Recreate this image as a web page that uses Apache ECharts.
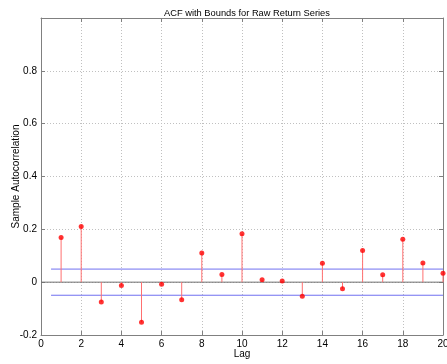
<!DOCTYPE html>
<html>
<head>
<meta charset="utf-8">
<script src="https://cdn.jsdelivr.net/npm/echarts@6/dist/echarts.min.js"></script>
<style>html,body{margin:0;padding:0;background:#fff}#c{width:447px;height:364px}</style>
</head>
<body>
<div id="c"></div>
<script>
var lags = [1,2,3,4,5,6,7,8,9,10,11,12,13,14,15,16,17,18,19,20];
var acf = [0.169,0.211,-0.075,-0.013,-0.152,-0.008,-0.067,0.110,0.029,0.183,0.009,0.004,-0.053,0.072,-0.025,0.120,0.028,0.162,0.073,0.034];
var bound = 0.0495;
var boundStart = 0.5, boundEnd = 20;
var xTicks = [0,2,4,6,8,10,12,14,16,18,20];
var yTicks = [-0.2,0,0.2,0.4,0.6,0.8];

var chart = echarts.init(document.getElementById('c'), null, {renderer:'canvas'});
var font = 'Liberation Sans, Arial, Helvetica, sans-serif';
var axisCol = '#808080';
var stemData = lags.map(function(l,i){return [l, acf[i]];});
function fmtY(v){
  var r = Math.round(v*10)/10;
  if (Math.abs(r-1) < 1e-9) return '';
  if (Math.abs(r) < 1e-9) return '0';
  return String(r);
}
var option = {
  animation:false,
  title:{text:'ACF with Bounds for Raw Return Series', left:242, textAlign:'center', top:4,
    textStyle:{fontFamily:font, fontSize:9.3, fontWeight:'normal', color:'#000'}},
  grid:{left:41, right:4, top:18, bottom:29, containLabel:false, outerBoundsMode:'none'},
  xAxis:[{
    type:'value', min:0, max:20, interval:2, name:'Lag', nameLocation:'middle', nameGap:14, nameMoveOverlap:false,
    nameTextStyle:{fontFamily:font, fontSize:10, color:'#000'},
    axisLine:{onZero:false, lineStyle:{color:axisCol, width:1}},
    axisTick:{inside:true, length:4, lineStyle:{color:axisCol}},
    axisLabel:{fontFamily:font, fontSize:10, color:'#000', margin:4},
    splitLine:{show:true, lineStyle:{color:'#c0c0c0', type:[1,2], width:1}}
  },{
    type:'value', min:0, max:20, interval:2, position:'top',
    axisLine:{onZero:false, lineStyle:{color:axisCol}}, axisTick:{inside:true, length:4, lineStyle:{color:axisCol}},
    axisLabel:{show:false}, splitLine:{show:false}
  }],
  yAxis:[{
    type:'value', min:-0.2, max:1, interval:0.2, name:'Sample Autocorrelation', nameLocation:'middle', nameGap:20, nameMoveOverlap:false,
    nameTextStyle:{fontFamily:font, fontSize:10, color:'#000'},
    axisLine:{onZero:false, lineStyle:{color:axisCol, width:1}},
    axisTick:{inside:true, length:4, lineStyle:{color:axisCol}},
    axisLabel:{fontFamily:font, fontSize:10, color:'#000', margin:4, formatter:fmtY},
    splitLine:{show:true, lineStyle:{color:'#c0c0c0', type:[1,2], width:1}}
  },{
    type:'value', min:-0.2, max:1, interval:0.2, position:'right',
    axisLine:{onZero:false, lineStyle:{color:axisCol}}, axisTick:{inside:true, length:4, lineStyle:{color:axisCol}},
    axisLabel:{show:false}, splitLine:{show:false}
  }],
  series:[
    {type:'line', data:[[0,0],[20,0]], symbol:'none', silent:true,
      lineStyle:{color:'#707070', width:1}, z:3},
    {type:'line', data:[[boundStart,bound],[boundEnd,bound]], symbol:'none',
      lineStyle:{color:'#7070f0', width:1}, z:3},
    {type:'line', data:[[boundStart,-bound],[boundEnd,-bound]], symbol:'none',
      lineStyle:{color:'#7070f0', width:1}, z:3},
    {type:'custom', data:stemData, z:4,
      renderItem:function(params, api){
        var p0 = api.coord([api.value(0), 0]);
        var p1 = api.coord([api.value(0), api.value(1)]);
        return {type:'line', shape:{x1:p0[0], y1:p0[1], x2:p1[0], y2:p1[1]},
          style:{stroke:'#ff7070', lineWidth:1}};
      }},
    {type:'scatter', data:stemData, symbol:'circle', symbolSize:5,
      itemStyle:{color:'#ff0000'}, z:5}
  ]
};
chart.setOption(option);
</script>
</body>
</html>
